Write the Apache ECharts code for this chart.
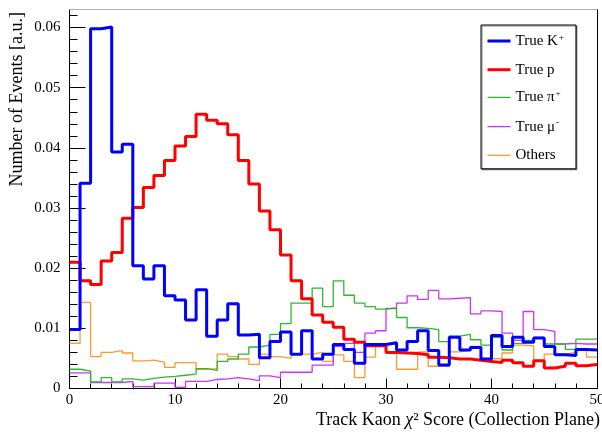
<!DOCTYPE html>
<html><head><meta charset="utf-8">
<script src="https://cdn.jsdelivr.net/npm/echarts@6/dist/echarts.min.js"></script>
<style>html,body{margin:0;padding:0;background:#fff}#c{width:602px;height:433px}</style>
</head><body><div id="c"></div>
<script>
// Bin lower edges (bin width 1) and the final upper edge
const binEdges = [0,1,2,3,4,5,6,7,8,9,10,11,12,13,14,15,16,17,18,19,20,21,22,23,24,25,26,27,28,29,30,31,32,33,34,35,36,37,38,39,40,41,42,43,44,45,46,47,48,49,50];

const trueKaon = [0.0098,0.0341,0.0598,0.0601,0.0393,0.0406,0.0204,0.0182,0.0204,0.0154,
  0.0147,0.0114,0.0164,0.0087,0.0114,0.0141,0.0089,0.0090,0.0051,0.0078,
  0.0094,0.0057,0.0096,0.0049,0.0057,0.0073,0.0065,0.0042,0.0073,0.0073,
  0.0076,0.0064,0.0078,0.0096,0.0063,0.0039,0.0085,0.0064,0.0068,0.0049,
  0.0088,0.0070,0.0085,0.0077,0.0084,0.0070,0.0056,0.0055,0.0065,0.0064];

const trueProton = [0.0210,0.0179,0.0173,0.0212,0.0226,0.0283,0.0301,0.0334,0.0354,0.0379,
  0.0403,0.0419,0.0456,0.0446,0.0440,0.0422,0.0379,0.0340,0.0295,0.0264,
  0.0222,0.0179,0.0149,0.0122,0.0110,0.0102,0.0082,0.0077,0.0071,0.0071,
  0.0060,0.0059,0.0058,0.0056,0.0052,0.0051,0.0049,0.0049,0.0047,0.0045,
  0.0043,0.0047,0.0043,0.0037,0.0046,0.0034,0.0037,0.0042,0.0038,0.0040];

const truePion = [0.0032,0.0029,0.0011,0.0018,0.0011,0.0016,0.0014,0.0017,0.0019,0.0020,
  0.0022,0.0024,0.0033,0.0030,0.0045,0.0049,0.0057,0.0069,0.0072,0.0090,
  0.0108,0.0142,0.0142,0.0167,0.0136,0.0179,0.0155,0.0142,0.0136,0.0132,
  0.0134,0.0118,0.0101,0.0100,0.0098,0.0078,0.0087,0.0090,0.0081,0.0072,
  0.0085,0.0064,0.0075,0.0080,0.0085,0.0074,0.0074,0.0065,0.0082,0.0082];

const trueMuon = [0.0026,0.0026,0.0010,0.0010,0.0010,0.0012,0.0003,0.0003,0.0009,0.0009,
  0.0002,0.0012,0.0012,0.0015,0.0016,0.0018,0.0016,0.0013,0.0021,0.0018,
  0.0027,0.0027,0.0027,0.0039,0.0039,0.0070,0.0075,0.0060,0.0092,0.0096,
  0.0133,0.0142,0.0154,0.0148,0.0163,0.0149,0.0150,0.0151,0.0124,0.0129,
  0.0128,0.0092,0.0080,0.0128,0.0098,0.0095,0.0074,0.0075,0.0074,0.0074];

const others = [0.0075,0.0143,0.0053,0.0060,0.0063,0.0059,0.0046,0.0047,0.0044,0.0035,
  0.0043,0.0043,0.0032,0.0033,0.0057,0.0053,0.0049,0.0040,0.0057,0.0053,
  0.0050,0.0057,0.0057,0.0060,0.0045,0.0056,0.0045,0.0018,0.0052,0.0070,
  0.0060,0.0032,0.0032,0.0061,0.0037,0.0037,0.0061,0.0064,0.0070,0.0049,
  0.0050,0.0059,0.0072,0.0071,0.0045,0.0057,0.0057,0.0060,0.0064,0.0052];

const xTicks = [0, 10, 20, 30, 40, 50];
const yTicks = [0, 0.01, 0.02, 0.03, 0.04, 0.05, 0.06];

const FONT = '"Liberation Serif", "DejaVu Serif", serif';

function steps(vals) {
  const pts = vals.map((v, i) => [binEdges[i], v]);
  pts.push([binEdges[vals.length], vals[vals.length - 1]]);
  return pts;
}

const seriesDefs = [
  {name: 'True K+', data: trueKaon, color: '#0000ff', width: 3},
  {name: 'True p', data: trueProton, color: '#ff0000', width: 3},
  {name: 'True pi+', data: truePion, color: '#2eb82e', width: 1.3},
  {name: 'True mu-', data: trueMuon, color: '#cc33ff', width: 1.3},
  {name: 'Others', data: others, color: '#ff9933', width: 1.3}
];
const legendLabels = {
  'True K+': '{n|True K}{s|+}',
  'True p': '{n|True p}',
  'True pi+': '{n|True π}{s|+}',
  'True mu-': '{n|True μ}{s|-}',
  'Others': '{n|Others}'
};

const chart = echarts.init(document.getElementById('c'), null, {renderer: 'canvas'});
const drawOrder = [4, 3, 2, 1, 0];
chart.setOption({
  animation: false,
  backgroundColor: '#fff',
  grid: {left: 69.5, right: 5, top: 9.5, bottom: 44.5, containLabel: false, outerBoundsMode: 'none'},
  xAxis: [{
    type: 'value', min: 0, max: 50, interval: 10,
    axisLine: {show: true, onZero: false, lineStyle: {color: '#000', width: 1}},
    axisTick: {show: true, inside: true, length: 10, lineStyle: {color: '#000'}},
    minorTick: {show: true, splitNumber: 5, length: 5, lineStyle: {color: '#000'}},
    splitLine: {show: false},
    axisLabel: {customValues: xTicks, margin: 4, fontFamily: FONT, fontSize: 15, color: '#000'}
  }, {
    type: 'value', min: 0, max: 50, position: 'top',
    axisLine: {show: true, onZero: false, lineStyle: {color: '#b0b0b0', width: 1}},
    axisTick: {show: false}, axisLabel: {show: false}, splitLine: {show: false}
  }],
  yAxis: [{
    type: 'value', min: 0, max: 0.063, interval: 0.01,
    axisLine: {show: true, onZero: false, lineStyle: {color: '#000', width: 1}},
    axisTick: {show: true, inside: true, length: 16, customValues: yTicks, lineStyle: {color: '#000'}},
    minorTick: {show: true, splitNumber: 5, length: 8, lineStyle: {color: '#000'}},
    splitLine: {show: false},
    axisLabel: {customValues: yTicks, margin: 9, fontFamily: FONT, fontSize: 15, color: '#000',
      formatter: v => (v === 0 ? '0' : v.toFixed(2))}
  }, {
    type: 'value', min: 0, max: 0.063, position: 'right',
    axisLine: {show: true, onZero: false, lineStyle: {color: '#000', width: 1}},
    axisTick: {show: false}, axisLabel: {show: false}, splitLine: {show: false}
  }],
  legend: {
    orient: 'vertical', left: 481, top: 25,
    padding: [8, 12, 6, 5], itemGap: 12.2, itemWidth: 23, itemHeight: 14,
    backgroundColor: '#fff', borderColor: '#000', borderWidth: 1,
    shadowColor: 'rgba(0,0,0,0.45)', shadowOffsetX: 1, shadowOffsetY: 1, shadowBlur: 0,
    formatter: name => legendLabels[name],
    textStyle: {
      color: '#000', fontFamily: FONT, fontSize: 15,
      rich: {
        n: {fontFamily: FONT, fontSize: 15, color: '#000', lineHeight: 16},
        s: {fontFamily: FONT, fontSize: 9, color: '#000', lineHeight: 16, verticalAlign: 'top', padding: [0, 0, 8, 1]}
      }
    },
    data: seriesDefs.map(s => ({
      name: s.name,
      lineStyle: {width: s.width, color: s.color},
      itemStyle: {color: 'rgba(0,0,0,0)', borderWidth: 0, opacity: 0}
    }))
  },
  graphic: [
    {type: 'text', right: 2, top: 411, z: 10,
      style: {text: '{n|Track Kaon }{i|χ}{n|² Score (Collection Plane)}', fill: '#000',
        rich: {n: {fontFamily: FONT, fontSize: 18, fill: '#000'},
               i: {fontFamily: FONT, fontSize: 18, fontStyle: 'italic', fill: '#000'}}}},
    {type: 'text', x: 17, y: 12, rotation: Math.PI / 2, z: 10,
      style: {text: 'Number of Events [a.u.]', fill: '#000', font: '18px ' + FONT,
        align: 'right', verticalAlign: 'middle'}}
  ],
  series: drawOrder.map(k => {
    const s = seriesDefs[k];
    return {
      name: s.name, type: 'line', step: 'end', xAxisIndex: 0, yAxisIndex: 0,
      data: steps(s.data), showSymbol: false, symbol: 'none', silent: true,
      lineStyle: {color: s.color, width: s.width}, itemStyle: {color: s.color},
      clip: true
    };
  })
});
</script>
</body></html>
